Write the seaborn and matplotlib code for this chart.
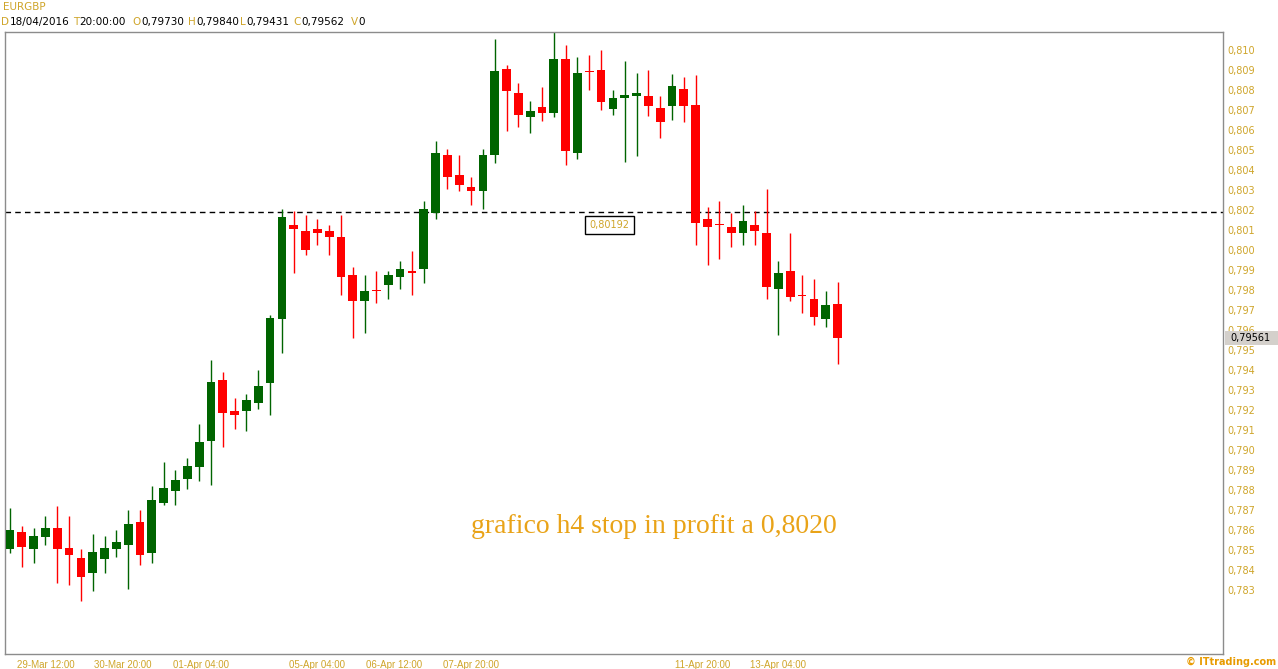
import matplotlib
matplotlib.use("Agg")
import matplotlib.pyplot as plt
import matplotlib.transforms as mtransforms
from matplotlib.patches import Rectangle
import seaborn as sns
import numpy as np

# EURGBP H4 candles (oldest first)
opens = [0.78507, 0.78590, 0.78507, 0.78567, 0.78610, 0.78510, 0.78460, 0.78387, 0.78457, 0.78507,
         0.78527, 0.78640, 0.78487, 0.78737, 0.78797, 0.78857, 0.78917, 0.79047, 0.79350, 0.79193,
         0.79197, 0.79237, 0.79337, 0.79657, 0.80123, 0.80093, 0.80107, 0.80093, 0.80067, 0.79873,
         0.79743, 0.79797, 0.79823, 0.79863, 0.79897, 0.79903, 0.80183, 0.80473, 0.80373, 0.80313,
         0.80293, 0.80473, 0.80903, 0.80783, 0.80663, 0.80713, 0.80683, 0.80953, 0.80483, 0.80893,
         0.80900, 0.80707, 0.80762, 0.80772, 0.80770, 0.80710, 0.80722, 0.80805, 0.80723, 0.80153,
         0.80127, 0.80113, 0.80083, 0.80123, 0.80083, 0.79803, 0.79893, 0.79775, 0.79753, 0.79657,
         0.79730]
highs = [0.78712, 0.78620, 0.78610, 0.78670, 0.78720, 0.78670, 0.78507, 0.78580, 0.78570, 0.78600,
         0.78700, 0.78700, 0.78820, 0.78940, 0.78900, 0.78960, 0.79130, 0.79450, 0.79390, 0.79260,
         0.79280, 0.79400, 0.79677, 0.80203, 0.80193, 0.80177, 0.80157, 0.80127, 0.80177, 0.79913,
         0.79873, 0.79893, 0.79897, 0.79943, 0.79993, 0.80243, 0.80543, 0.80503, 0.80473, 0.80363,
         0.80503, 0.81053, 0.80923, 0.80833, 0.80743, 0.80813, 0.81093, 0.81023, 0.80963, 0.80975,
         0.80998, 0.80800, 0.80945, 0.80885, 0.80900, 0.80770, 0.80880, 0.80865, 0.80873, 0.80213,
         0.80243, 0.80183, 0.80223, 0.80193, 0.80303, 0.79943, 0.80083, 0.79873, 0.79853, 0.79793,
         0.79840]
lows = [0.78487, 0.78417, 0.78437, 0.78527, 0.78337, 0.78327, 0.78247, 0.78297, 0.78387, 0.78467,
        0.78307, 0.78427, 0.78437, 0.78727, 0.78727, 0.78807, 0.78847, 0.78827, 0.79017, 0.79107,
        0.79097, 0.79207, 0.79177, 0.79487, 0.79883, 0.79973, 0.80023, 0.79973, 0.79773, 0.79560,
        0.79587, 0.79733, 0.79753, 0.79803, 0.79773, 0.79833, 0.80153, 0.80303, 0.80293, 0.80223,
        0.80203, 0.80433, 0.80593, 0.80613, 0.80583, 0.80643, 0.80663, 0.80423, 0.80453, 0.80802,
        0.80698, 0.80677, 0.80442, 0.80472, 0.80672, 0.80562, 0.80652, 0.80642, 0.80023, 0.79923,
        0.79953, 0.80013, 0.80023, 0.80023, 0.79753, 0.79577, 0.79743, 0.79687, 0.79627, 0.79617,
        0.79431]
closes = [0.78600, 0.78517, 0.78570, 0.78610, 0.78507, 0.78477, 0.78367, 0.78490, 0.78510, 0.78540,
          0.78630, 0.78477, 0.78750, 0.78810, 0.78850, 0.78920, 0.79040, 0.79340, 0.79187, 0.79177,
          0.79250, 0.79320, 0.79660, 0.80163, 0.80103, 0.80000, 0.80083, 0.80063, 0.79863, 0.79743,
          0.79797, 0.79793, 0.79873, 0.79903, 0.79883, 0.80203, 0.80483, 0.80363, 0.80323, 0.80293,
          0.80473, 0.80893, 0.80793, 0.80673, 0.80693, 0.80683, 0.80953, 0.80493, 0.80883, 0.80888,
          0.80742, 0.80760, 0.80775, 0.80785, 0.80722, 0.80642, 0.80820, 0.80722, 0.80133, 0.80113,
          0.80123, 0.80083, 0.80143, 0.80093, 0.79813, 0.79883, 0.79763, 0.79772, 0.79667, 0.79723,
          0.79562]

date_ticks = [3.05, 9.56, 16.16, 25.97, 32.49, 39.0, 58.6, 64.97]
date_labels = ["29-Mar 12:00", "30-Mar 20:00", "01-Apr 04:00", "05-Apr 04:00",
               "06-Apr 12:00", "07-Apr 20:00", "11-Apr 20:00", "13-Apr 04:00"]
price_ticks = [round(0.783 + 0.001 * k, 3) for k in range(28)]

stop_level = 0.80192
last_price = 0.79561
note = "grafico h4 stop in profit a 0,8020"

GOLD = "#CFA52A"
ORANGE = "#E9A318"
GREEN = "#006400"
RED = "#FF0000"

sns.set_style("white")
plt.rcParams["font.family"] = ["DejaVu Sans"]

fig = plt.figure(figsize=(12.78, 6.69), dpi=100)
W, H = 1278, 669
ax = fig.add_axes([5 / W, 1 - 654 / H, (1223 - 5) / W, (654 - 32) / H])

idx = np.arange(len(opens))
o = np.array(opens)
c = np.array(closes)
up = c >= o
colors = np.where(up, GREEN, RED)

# wicks
ax.vlines(idx, lows, highs, colors=colors, linewidth=1.0, zorder=2)
# bodies (doji get a 1px line)
bottom = np.minimum(o, c)
height = np.maximum(np.abs(c - o), 0.00005)
ax.bar(idx, height, bottom=bottom, width=0.74, color=colors, linewidth=0, zorder=3)

ax.set_xlim(-0.42, 102.6)
ax.set_ylim(0.7798, 0.8109)

# stop line and label
ax.axhline(stop_level, color="black", linewidth=1.0, linestyle=(0, (4, 3)), zorder=1)
ax.text(50.7, 0.80125, "0,80192", color=GOLD, fontsize=7, ha="center", va="center",
        bbox=dict(boxstyle="square,pad=0.45", facecolor="white", edgecolor="black", linewidth=1),
        zorder=5)

ax.text(54.5, 0.78585, note, color=ORANGE, fontsize=20, family="Liberation Serif",
        ha="center", va="baseline", zorder=4)

# axes look
for sp in ax.spines.values():
    sp.set_color("#8C8C8C")
    sp.set_linewidth(1.0)
ax.yaxis.tick_right()
ax.set_yticks(price_ticks)
ax.set_yticklabels([f"{t:.3f}".replace(".", ",") for t in price_ticks])
ax.set_xticks(date_ticks)
ax.set_xticklabels(date_labels, family="Liberation Sans", fontsize=7)
ax.tick_params(axis="both", length=0, labelcolor=GOLD)
ax.tick_params(axis="y", pad=3, labelsize=7)
ax.tick_params(axis="x", pad=4)
ax.grid(False)

# last price box on the right scale
trans = mtransforms.blended_transform_factory(ax.transAxes, ax.transData)
ax.add_patch(Rectangle((1.0016, last_price - 0.00036), 0.046, 0.00072, transform=trans,
                       facecolor="#D4D0CB", edgecolor="none", clip_on=False, zorder=6))
ax.text(1.0057, last_price, "0,79561", transform=trans, color="black", fontsize=7,
        ha="left", va="center", clip_on=False, zorder=7)

# header
fig.text(3 / W, 1 - 7.5 / H, "EURGBP", color=GOLD, fontsize=7.5, ha="left", va="center")
header = [(9.5, "D", "18/04/2016"), (79.5, "T", "20:00:00"), (141, "O", "0,79730"),
          (196, "H", "0,79840"), (246.7, "L", "0,79431"), (301, "C", "0,79562"), (358.3, "V", "0")]
for px, letter, value in header:
    fig.text((px - 0.5) / W, 1 - 22 / H, letter, color=GOLD, fontsize=7.5, ha="right", va="center")
    fig.text(px / W, 1 - 22 / H, value, color="black", fontsize=7.5, ha="left", va="center")

fig.text(1276 / W, 1 - 662 / H, "\u00a9 ITtrading.com", color="#E89B00", fontsize=7,
         fontweight="bold", ha="right", va="center")

fig.savefig("out.png", dpi=100)
